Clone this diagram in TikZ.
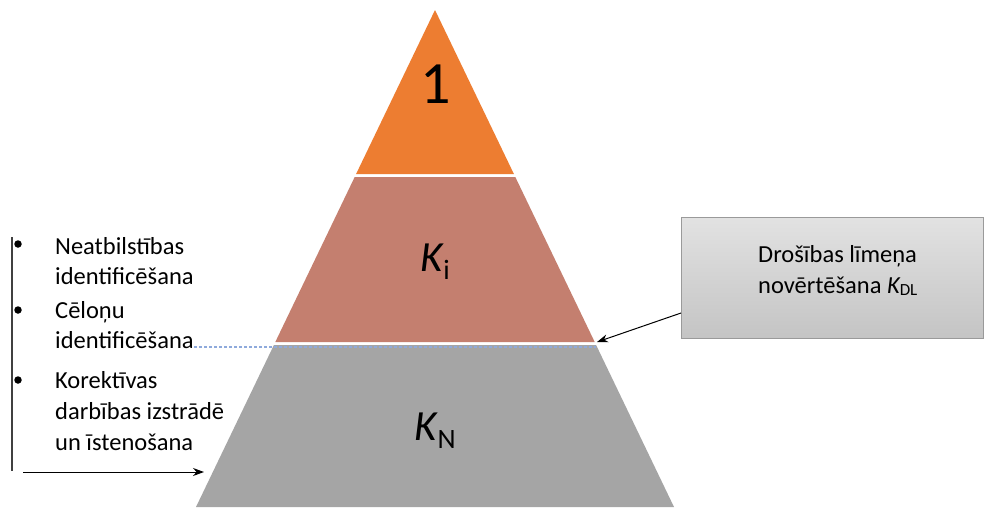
\documentclass[tikz,border=0pt]{standalone}
\usepackage{fontspec}
\setmainfont{Carlito}
\usetikzlibrary{arrows.meta}
\definecolor{cOrange}{HTML}{ED7D31}
\definecolor{cRose}{HTML}{C47F6F}
\definecolor{cGray}{HTML}{A5A5A5}
\definecolor{cBoxTop}{HTML}{E2E2E2}
\definecolor{cBoxBot}{HTML}{C4C4C4}
\definecolor{cBoxLine}{HTML}{9A9A9A}
\definecolor{cDash}{HTML}{8FAADC}
\definecolor{cLine}{HTML}{404040}
\tikzset{
  itemtext/.style={anchor=base west, inner sep=0pt, align=left, font=\fontsize{24.5}{30}\selectfont},
  bulletdot/.style={circle, fill=black, inner sep=0pt, minimum size=7.5pt},
  boxnode/.style={draw=cBoxLine, line width=0.8pt, top color=cBoxTop, bottom color=cBoxBot, minimum width=302pt, minimum height=121pt, anchor=north west, inner sep=0pt},
  boxtext/.style={align=left, inner sep=0pt, anchor=base west, font=\fontsize{24.5}{31}\selectfont},
  arr/.style={-{Stealth[length=11pt,width=8pt]}, line width=1pt, black},
  bigtext/.style={inner sep=0pt}
}
\begin{document}
\begin{tikzpicture}[x=1pt,y=-1pt]
\useasboundingbox (0,0) rectangle (984,507);
\fill[white] (0,0) rectangle (984,507);
% pyramid tiers
\fill[cOrange] (435,10) -- (513.9,174) -- (356.1,174) -- cycle;
\fill[cRose] (354.7,177) -- (515.3,177) -- (594.7,342) -- (275.3,342) -- cycle;
\fill[cGray] (273.9,345) -- (596.1,345) -- (674,507) -- (196,507) -- cycle;
% dashed line
\draw[cDash, line width=1.1pt, dash pattern=on 3pt off 2pt] (194,347) -- (596,347);
% tier labels
\node[bigtext, font=\fontsize{60}{60}\selectfont] (one) at (436,84) {1};
\node[bigtext] (ki) at (435,262) {\fontsize{43}{43}\selectfont\itshape K\kern1pt\raisebox{-8pt}{\upshape\fontsize{28}{28}\selectfont i}};
\node[bigtext] (kn) at (435,431) {\fontsize{43}{43}\selectfont\itshape K\kern1pt\raisebox{-8pt}{\upshape\fontsize{28}{28}\selectfont N}};
% box
\node[boxnode] (box) at (681,217) {};
\node[boxtext] (boxt) at (758,293) {Drošības līmeņa\\novērtēšana {\itshape K}{\fontsize{17}{17}\selectfont\raisebox{-2pt}{DL}}};
\coordinate (tipdl) at (597,342);
\draw[arr] (box.west |- 0,313) -- (tipdl);
% left list
\coordinate (vtop) at (12,237);
\coordinate (vbot) at (12,471);
\draw[cLine, line width=1.3pt] (vtop) -- (vbot);
\node[bulletdot] (b1) at (18,244) {};
\node[bulletdot] (b2) at (18,310) {};
\node[bulletdot] (b3) at (18,380) {};
\node[itemtext] (t1) at (55,284) {Neatbilstības\\identificēšana};
\node[itemtext] (t2) at (55,348) {Cēloņu\\identificēšana};
\node[itemtext, font=\fontsize{24.5}{31}\selectfont] (t3) at (55,450) {Korektīvas\\darbības izstrādē\\un īstenošana};
\coordinate (astart) at (23,472);
\coordinate (aend) at (204,472);
\draw[arr] (astart) -- (aend);
\end{tikzpicture}
\end{document}
